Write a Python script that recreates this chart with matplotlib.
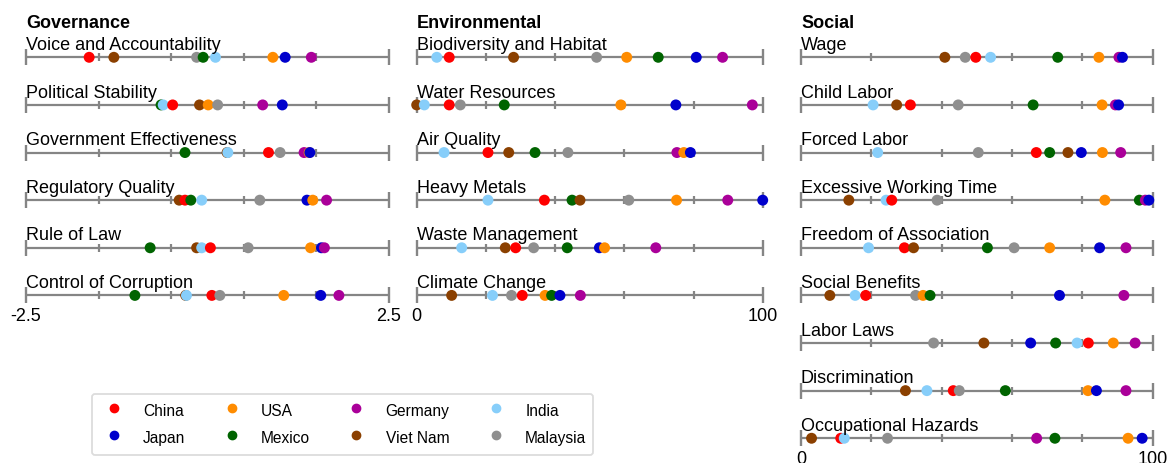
import matplotlib
matplotlib.use("Agg")
import matplotlib.pyplot as plt
from matplotlib.lines import Line2D
import numpy as np

plt.rcParams["font.family"] = ["Liberation Sans", "DejaVu Sans"]

# ---------------------------------------------------------------- data
countries = ["China", "Japan", "USA", "Mexico", "Germany", "Viet Nam", "India", "Malaysia"]
colors = ["#ff0000", "#0000cc", "#ff8c00", "#006400", "#aa0099", "#8b4000", "#87cefa", "#8f8f8f"]

# Governance indicators (scale -2.5 .. 2.5), one value per country
gov_labels = ["Voice and Accountability", "Political Stability", "Government Effectiveness",
              "Regulatory Quality", "Rule of Law", "Control of Corruption"]
voice_accountability = [-1.63, 1.07, 0.90, -0.06, 1.43, -1.29, 0.11, -0.15]
political_stability = [-0.48, 1.03, 0.01, -0.64, 0.76, -0.11, -0.61, 0.14]
government_effectiveness = [0.84, 1.41, 1.40, -0.31, 1.33, 0.27, 0.28, 1.00]
regulatory_quality = [-0.31, 1.37, 1.45, -0.23, 1.64, -0.39, -0.08, 0.72]
rule_of_law = [0.04, 1.57, 1.42, -0.79, 1.61, -0.15, -0.08, 0.56]
control_of_corruption = [0.06, 1.56, 1.05, -1.00, 1.81, -0.30, -0.29, 0.17]

# Environmental indicators (scale 0 .. 100)
env_labels = ["Biodiversity and Habitat", "Water Resources", "Air Quality",
              "Heavy Metals", "Waste Management", "Climate Change"]
biodiversity = [9.4, 80.8, 60.7, 69.8, 88.4, 28.0, 5.8, 52.0]
water_resources = [9.4, 74.9, 59.0, 25.3, 97.0, 0.0, 2.2, 12.6]
air_quality = [20.6, 79.1, 77.2, 34.2, 75.2, 26.6, 7.9, 43.7]
heavy_metals = [36.9, 100.0, 75.1, 44.9, 89.9, 47.2, 20.6, 61.3]
waste_management = [28.6, 52.8, 54.3, 43.5, 69.1, 25.6, 13.0, 33.8]
climate_change = [30.5, 41.4, 37.1, 39.0, 47.3, 10.1, 21.9, 27.4]

# Social indicators (scale 0 .. 100)
soc_labels = ["Wage", "Child Labor", "Forced Labor", "Excessive Working Time",
              "Freedom of Association", "Social Benefits", "Labor Laws",
              "Discrimination", "Occupational Hazards"]
wage = [49.7, 91.4, 84.7, 73.0, 90.4, 40.9, 53.9, 46.7]
child_labor = [31.1, 90.3, 85.6, 66.0, 89.4, 27.2, 20.5, 44.7]
forced_labor = [66.9, 79.7, 85.7, 70.7, 90.9, 75.9, 21.8, 50.4]
excessive_working_time = [25.8, 98.9, 86.4, 96.2, 97.9, 13.6, 24.2, 38.7]
freedom_of_association = [29.4, 84.9, 70.7, 53.0, 92.4, 32.0, 19.2, 60.6]
social_benefits = [18.4, 73.5, 34.7, 36.7, 91.8, 8.2, 15.4, 32.6]
labor_laws = [81.7, 65.3, 88.8, 72.4, 95.0, 52.0, 78.5, 37.7]
discrimination = [43.3, 84.0, 81.6, 58.1, 92.4, 29.7, 35.8, 45.0]
occupational_hazards = [11.3, 97.0, 93.0, 72.2, 67.0, 3.0, 12.3, 24.6]

gov_rows = [voice_accountability, political_stability, government_effectiveness,
            regulatory_quality, rule_of_law, control_of_corruption]
env_rows = [biodiversity, water_resources, air_quality, heavy_metals,
            waste_management, climate_change]
soc_rows = [wage, child_labor, forced_labor, excessive_working_time,
            freedom_of_association, social_benefits, labor_laws,
            discrimination, occupational_hazards]

# ---------------------------------------------------------------- layout
W, H = 1171, 463
fig = plt.figure(figsize=(W / 100, H / 100), dpi=100)

GREY = "#858585"
ROW_GAP = 47.62          # pixels between rows
FIRST_ROW = 57.3         # pixel position of the first row from the top


def panel(left_px, right_px, title, labels, rows, lo, hi, inner_ticks, end_labels):
    ax = fig.add_axes([left_px / W, 0, (right_px - left_px) / W, 1])
    ax.set_xlim(lo, hi)
    ax.set_ylim((H - FIRST_ROW) / ROW_GAP, -FIRST_ROW / ROW_GAP)
    ax.axis("off")
    col = np.array(colors)
    for i, (lab, vals) in enumerate(zip(labels, rows)):
        ax.plot([lo, hi], [i, i], color=GREY, lw=1.6, solid_capstyle="butt",
                clip_on=False, zorder=1)
        ax.plot([lo, hi], [i, i], ls="none", marker="|", ms=11.5, mew=1.7,
                color=GREY, clip_on=False, zorder=1)
        ax.plot(inner_ticks, [i] * len(inner_ticks), ls="none", marker="|",
                ms=5.2, mew=1.6, color=GREY, clip_on=False, zorder=1)
        v = np.asarray(vals, dtype=float)
        order = np.argsort(v, kind="stable")
        ax.scatter(v[order], np.full(len(v), i), c=col[order], s=62,
                   linewidths=0, zorder=3, clip_on=False)
        ax.annotate(lab, (lo, i), xytext=(0, 5.3), textcoords="offset points",
                    ha="left", va="baseline", fontsize=13)
    ax.annotate(title, (lo, 0), xytext=(0, 20.9), textcoords="offset points",
                ha="left", va="baseline", fontsize=13, fontweight="bold")
    last = len(rows) - 1
    for x, t in zip((lo, hi), end_labels):
        ax.annotate(t, (x, last), xytext=(0, -18.5), textcoords="offset points",
                    ha="center", va="baseline", fontsize=13, annotation_clip=False)
    return ax


panel(26, 389, "Governance", gov_labels, gov_rows, -2.5, 2.5,
      [-1.5, -0.5, 0.5, 1.5], ["-2.5", "2.5"])
panel(416.7, 762.7, "Environmental", env_labels, env_rows, 0, 100,
      [20, 40, 60, 80], ["0", "100"])
panel(801, 1152.7, "Social", soc_labels, soc_rows, 0, 100,
      [20, 40, 60, 80], ["0", "100"])

handles = [Line2D([], [], ls="none", marker="o", ms=6, mfc=c, mec=c) for c in colors]
leg = fig.legend(handles, countries, ncol=4, loc="upper left",
                 bbox_to_anchor=(92 / W, 1 - 394 / H), bbox_transform=fig.transFigure,
                 borderaxespad=0, fontsize=11.2, handlelength=2, handleheight=1.75,
                 handletextpad=0.88, columnspacing=1.98, borderpad=0.4,
                 labelspacing=0.35, frameon=True)
leg.get_frame().set_edgecolor("#d4d4d4")
leg.get_frame().set_linewidth(1.3)

fig.savefig("out.png", dpi=100)
